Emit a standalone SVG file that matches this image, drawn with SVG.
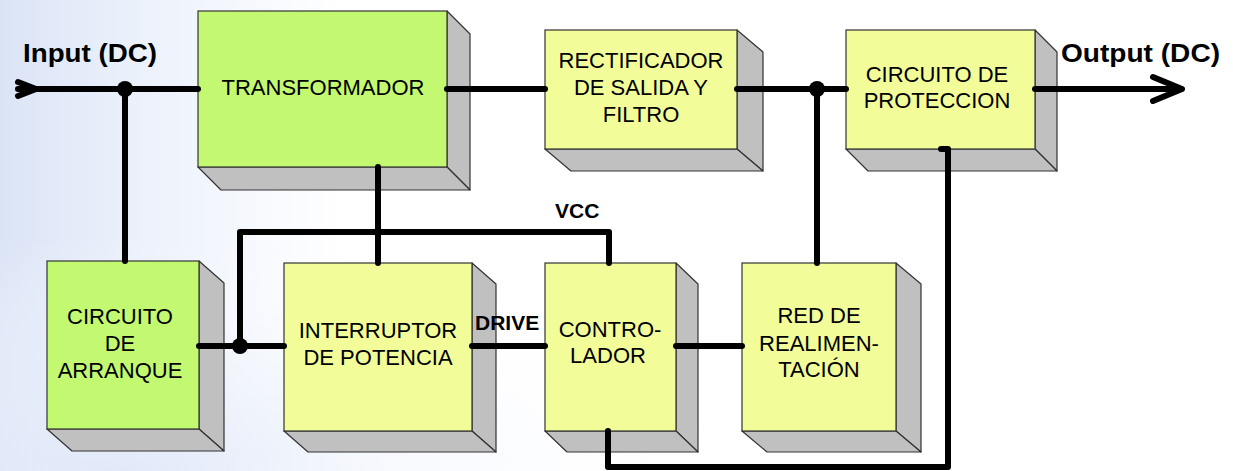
<svg xmlns="http://www.w3.org/2000/svg" width="1233" height="471" viewBox="0 0 1233 471">
<defs>
<linearGradient id="bg" x1="0" y1="0" x2="1" y2="0">
<stop offset="0" stop-color="#dbe4f6"/>
<stop offset="0.1" stop-color="#eaf0fb"/>
<stop offset="0.28" stop-color="#ffffff"/>
<stop offset="1" stop-color="#ffffff"/>
</linearGradient>
<radialGradient id="bg2" cx="0.1" cy="1" r="0.5">
<stop offset="0" stop-color="#dfe7f8" stop-opacity="0.8"/>
<stop offset="1" stop-color="#ffffff" stop-opacity="0"/>
</radialGradient>
<style>
.front-g{fill:#c3f871;stroke:#333;stroke-width:1.2}
.front-y{fill:#f2fd9a;stroke:#333;stroke-width:1.2}
.side{fill:#c0c0c0;stroke:#333;stroke-width:1.2;stroke-linejoin:round}
.lbl{font-family:"Liberation Sans",Arial,sans-serif;font-size:22px;fill:#000;text-anchor:middle}
.bold{font-family:"Liberation Sans",Arial,sans-serif;font-weight:bold;fill:#000}
.wire{fill:none;stroke:#000;stroke-width:6;stroke-linecap:round;stroke-linejoin:round}
</style>
</defs>
<rect width="1233" height="471" fill="url(#bg)"/>
<rect width="1233" height="471" fill="url(#bg2)"/>

<text class="bold" x="23" y="62" font-size="26" textLength="134" lengthAdjust="spacingAndGlyphs">Input (DC)</text>
<text class="bold" x="1061" y="62" font-size="26" textLength="159" lengthAdjust="spacingAndGlyphs">Output (DC)</text>

<g id="transformador">
<polygon class="side" points="447,11 470,34 470,190 447,167"/>
<polygon class="side" points="198,167 447,167 470,190 221,190"/>
<rect class="front-g" x="198" y="11" width="249" height="156"/>
<text class="lbl" x="323" y="95">TRANSFORMADOR</text>
</g>

<g id="rectificador">
<polygon class="side" points="737,30 763,52 763,171 737,149"/>
<polygon class="side" points="545,149 737,149 763,171 571,171"/>
<rect class="front-y" x="545" y="30" width="192" height="119"/>
<text class="lbl" x="641" y="68">RECTIFICADOR</text>
<text class="lbl" x="641" y="95">DE SALIDA Y</text>
<text class="lbl" x="641" y="122">FILTRO</text>
</g>

<g id="proteccion">
<polygon class="side" points="1035,30 1057,52 1057,171 1035,149"/>
<polygon class="side" points="846,149 1035,149 1057,171 868,171"/>
<rect class="front-y" x="846" y="30" width="189" height="119"/>
<text class="lbl" x="937" y="82">CIRCUITO DE</text>
<text class="lbl" x="937" y="108">PROTECCION</text>
</g>

<g id="arranque">
<polygon class="side" points="199,261 224,283 224,451 199,429"/>
<polygon class="side" points="47,429 199,429 224,451 72,451"/>
<rect class="front-g" x="47" y="261" width="152" height="168"/>
<text class="lbl" x="120" y="324">CIRCUITO</text>
<text class="lbl" x="120" y="351">DE</text>
<text class="lbl" x="120" y="378">ARRANQUE</text>
</g>

<g id="interruptor">
<polygon class="side" points="472,263 496,284 496,452 472,431"/>
<polygon class="side" points="284,431 472,431 496,452 308,452"/>
<rect class="front-y" x="284" y="263" width="188" height="168"/>
<text class="lbl" x="378" y="338">INTERRUPTOR</text>
<text class="lbl" x="378" y="365">DE POTENCIA</text>
</g>

<g id="controlador">
<polygon class="side" points="676,263 698,284 698,452 676,431"/>
<polygon class="side" points="545,431 676,431 698,452 567,452"/>
<rect class="front-y" x="545" y="263" width="131" height="168"/>
<text class="lbl" x="610" y="337">CONTRO-</text>
<text class="lbl" x="608" y="363">LADOR</text>
</g>

<g id="realimentacion">
<polygon class="side" points="896,263 921,284 921,452 896,431"/>
<polygon class="side" points="742,431 896,431 921,452 767,452"/>
<rect class="front-y" x="742" y="263" width="154" height="168"/>
<text class="lbl" x="819" y="323">RED DE</text>
<text class="lbl" x="819" y="351">REALIMEN-</text>
<text class="lbl" x="819" y="377">TACIÓN</text>
</g>

<g id="connectors">
<path class="wire" d="M18,89 L198,89"/>
<path class="wire" d="M125,89 L125,261"/>
<path class="wire" d="M447,89 L545,89"/>
<path class="wire" d="M737,89 L846,89"/>
<path class="wire" d="M817,89 L817,263"/>
<path class="wire" d="M1035,89 L1181,89"/>
<path class="wire" d="M1153,77 L1182,89 L1153,101"/>
<path class="wire" d="M18,82 L36,89 L18,96" stroke-width="5"/>
<path class="wire" d="M378,167 L378,263"/>
<path class="wire" d="M240,346 L240,232 L609,232 L609,263"/>
<path class="wire" d="M199,346 L284,346"/>
<path class="wire" d="M472,346 L545,346"/>
<path class="wire" d="M676,346 L742,346"/>
<path class="wire" d="M941,149 L948,149 L948,467 L608,467 L608,431"/>
<circle cx="125" cy="89" r="8"/>
<circle cx="817" cy="89" r="8"/>
<circle cx="240" cy="346" r="8"/>
<text class="bold" x="555" y="218" font-size="21">VCC</text>
<text class="bold" x="475" y="330" font-size="21">DRIVE</text>
</g>
</svg>
